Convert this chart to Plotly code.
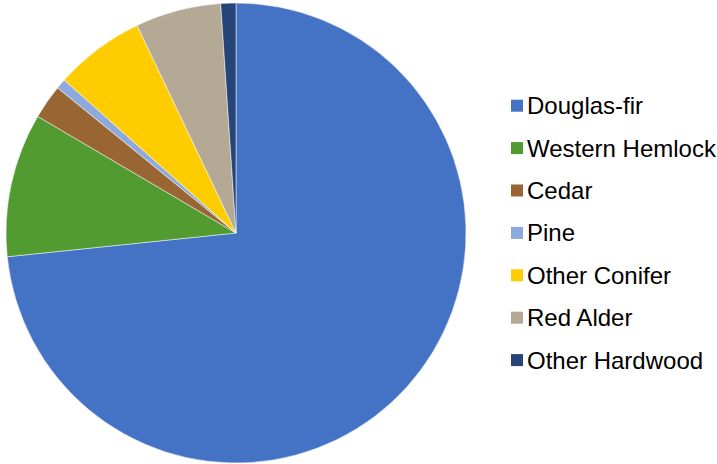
import plotly.graph_objects as go

labels = ["Douglas-fir", "Western Hemlock", "Cedar", "Pine", "Other Conifer", "Red Alder", "Other Hardwood"]
values = [73.36, 10.11, 2.41, 0.71, 6.34, 6.02, 1.06]
colors = ["#4472C4", "#519B31", "#996633", "#8EA9DB", "#FFCC00", "#B3A994", "#264478"]

W, H = 717, 464
cx, cy, r = 236, 233, 230

fig = go.Figure(go.Pie(
    labels=labels, values=values, sort=False, direction="clockwise", rotation=0,
    marker=dict(colors=colors, line=dict(color="white", width=0.5)),
    textinfo="none", hoverinfo="label+percent", showlegend=False,
    domain=dict(x=[(cx - r) / W, (cx + r) / W], y=[(H - cy - r) / H, (H - cy + r) / H]),
))

# legend drawn manually to match spacing
y0, dy = 105.7, 42.4
shapes, annotations = [], []
for i, (lab, col) in enumerate(zip(labels, colors)):
    yc = y0 + i * dy
    shapes.append(dict(type="rect", xref="paper", yref="paper",
                       x0=511 / W, x1=523 / W, y0=(H - yc - 6) / H, y1=(H - yc + 6) / H,
                       fillcolor=col, line=dict(width=0)))
    annotations.append(dict(text=lab, xref="paper", yref="paper", x=525 / W, y=(H - yc) / H,
                            xanchor="left", yanchor="middle", showarrow=False,
                            font=dict(family="Liberation Sans", size=24, color="#000000")))

fig.update_layout(width=W, height=H, margin=dict(l=0, r=0, t=0, b=0),
                  paper_bgcolor="white", plot_bgcolor="white",
                  shapes=shapes, annotations=annotations)
fig.write_html("out.html")
